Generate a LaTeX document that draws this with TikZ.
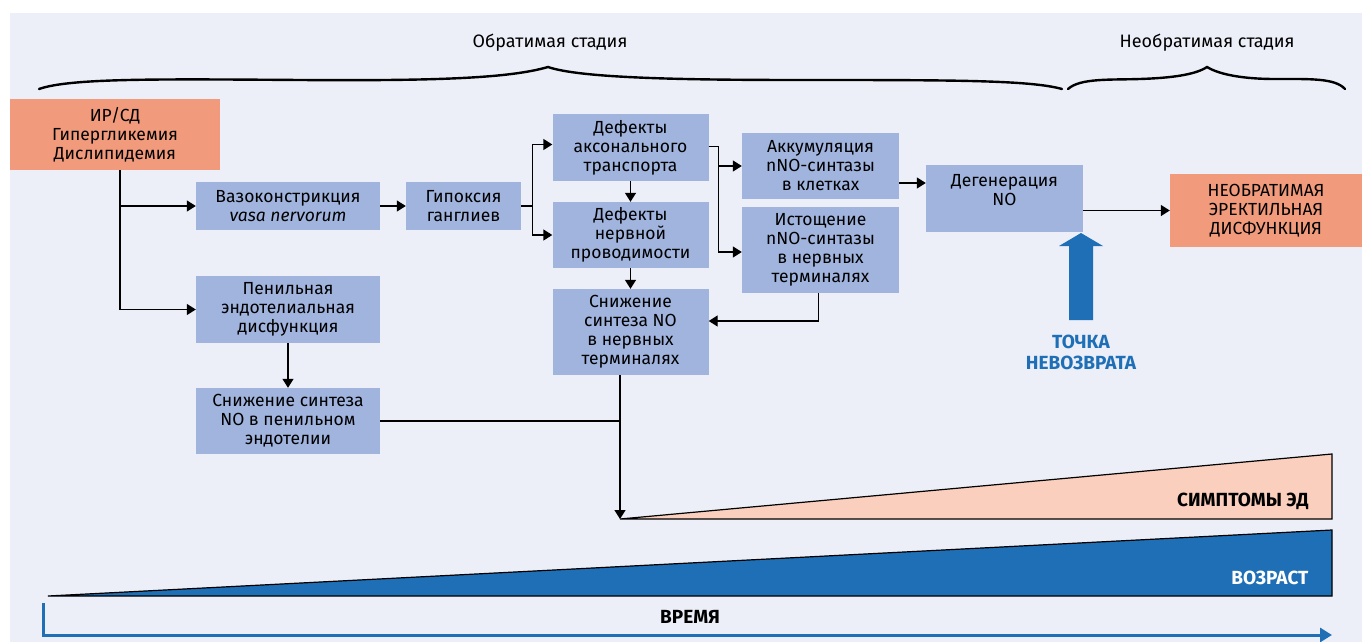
\documentclass[tikz,border=0pt]{standalone}
\usepackage{fontspec}
\setmainfont{Fira Sans}
\usetikzlibrary{arrows.meta}
\definecolor{bgc}{HTML}{ECEFF8}
\definecolor{boxb}{HTML}{A0B4DE}
\definecolor{salm}{HTML}{F29B7C}
\definecolor{peach}{HTML}{FBCFBD}
\definecolor{dblue}{HTML}{1F6FB7}
\tikzset{
  bbox/.style={fill=boxb, inner sep=0pt, align=center, font=\fontsize{17.5}{19}\selectfont},
  sbox/.style={fill=salm, inner sep=0pt, align=center, font=\fontsize{17.5}{19}\selectfont},
  conn/.style={line width=1.4pt, black},
  arr/.style={conn, -{Triangle[length=9pt,width=11pt]}},
  brace/.style={line width=2.4pt, line cap=round},
  stage/.style={font=\fontsize{18}{20}\selectfont},
  bold/.style={font=\fontsize{19}{21}\selectfont\bfseries, align=center},
}
\begin{document}
\begin{tikzpicture}[x=1pt,y=-1pt]
\useasboundingbox (0,0) rectangle (1362,642);
\fill[white] (0,0) rectangle (1362,642);
\fill[bgc] (10,13) rectangle (1362,642);

% braces
\draw[brace] (39,89) .. controls (70,78) and (160,79) .. (300,80) .. controls (440,81) and (510,78) .. (548,67)
  .. controls (580,78) and (680,80) .. (800,80) .. controls (950,80) and (1030,80) .. (1062,89);
\draw[brace] (1068,89) .. controls (1080,78) and (1110,80) .. (1140,79) .. controls (1170,78) and (1195,75) .. (1207,67)
  .. controls (1220,75) and (1245,79) .. (1275,79) .. controls (1310,79) and (1335,78) .. (1345,89);
\node[stage] (st1) at (550,43) {Обратимая стадия};
\node[stage] (st2) at (1207,43) {Необратимая стадия};

% boxes
\node[sbox, minimum width=210, minimum height=71] (ir) at (115,134.5) {ИР/СД\\Гипергликемия\\Дислипидемия};
\node[bbox, minimum width=184, minimum height=48] (vaso) at (288,206) {Вазоконстрикция\\\textit{vasa nervorum}};
\node[bbox, minimum width=115, minimum height=48] (gip) at (463.5,206) {Гипоксия\\ганглиев};
\node[bbox, minimum width=184, minimum height=67] (pen) at (288,309.5) {Пенильная\\эндотелиальная\\дисфункция};
\node[bbox, minimum width=184, minimum height=66] (pen2) at (288,421) {Снижение синтеза\\NO в пенильном\\эндотелии};
\node[bbox, minimum width=156, minimum height=67] (def1) at (630.5,147.5) {Дефекты\\аксонального\\транспорта};
\node[bbox, minimum width=156, minimum height=66] (def2) at (630.5,235) {Дефекты\\нервной\\проводимости};
\node[bbox, minimum width=156, minimum height=86] (sn) at (630.5,332) {Снижение\\синтеза NO\\в нервных\\терминалях};
\node[bbox, minimum width=157, minimum height=66] (akk) at (820.5,166) {Аккумуляция\\nNO-синтазы\\в клетках};
\node[bbox, minimum width=157, minimum height=86] (ist) at (820.5,250) {Истощение\\nNO-синтазы\\в нервных\\терминалях};
\node[bbox, minimum width=157, minimum height=67] (deg) at (1004.5,198.5) {};
\node[bbox, fill=none] (degt) at (1004.5,190) {Дегенерация\\NO};
\node[sbox, minimum width=192, minimum height=73] (neo) at (1266,210.5) {НЕОБРАТИМАЯ\\ЭРЕКТИЛЬНАЯ\\ДИСФУНКЦИЯ};

% connectors
\coordinate (i1) at ([xshift=5pt]ir.south);
\draw[arr] (i1) |- (vaso.west);
\draw[arr] (i1) |- (pen.west);
\draw[arr] (vaso) -- (gip);
\coordinate (g1) at ([xshift=11pt]gip.east);
\draw[conn] (gip.east) -- (g1);
\draw[arr] (g1) |- ([yshift=3pt]def1.west);
\draw[arr] (g1) |- (def2.west);
\draw[arr] (def1) -- (def2);
\draw[arr] (def2) -- (sn);
\coordinate (d1) at ([xshift=10pt,yshift=1pt]def1.east);
\draw[conn] ([yshift=1pt]def1.east) -- (d1);
\draw[arr] (d1) |- (akk.west);
\draw[arr] (d1) |- ([yshift=-2pt]ist.west);
\draw[arr] ([xshift=-2pt]ist.south) |- ([yshift=11pt]sn.east);
\draw[arr] ([yshift=-17pt]akk.east) -- ([yshift=-17pt]akk.east -| deg.west);
\draw[arr] (deg.east |- neo.west) -- (neo.west);
\coordinate (apex) at (620,519);
\draw[conn] (pen2.east) -- (pen2.east -| apex);
\draw[arr] (sn.south -| apex) -- (apex);
\draw[arr] (pen) -- (pen2);

% point of no return arrow
\fill[dblue] (1069,320) -- (1069,246) -- (1059,246) -- (1081,233) -- (1103,246) -- (1093,246) -- (1093,320) -- cycle;
\node[bold, text=dblue] (pnr) at (1081,352) {ТОЧКА\\НЕВОЗВРАТА};

% triangles
\draw[fill=peach, line width=1.2pt, line join=miter] (apex) -- (1332,454) -- (1332,519) -- cycle;
\node[bold, anchor=east] (sym) at (1312,501) {СИМПТОМЫ ЭД};
\draw[fill=dblue, line width=1.2pt] (48,596) -- (1332,530) -- (1332,596) -- cycle;
\node[bold, anchor=east, text=white] (age) at (1312,578) {ВОЗРАСТ};

% time axis
\draw[dblue, line width=3pt, -{Triangle[length=12pt,width=14pt]}] (43,603) -- (43,635) -- (1332,635);
\node[bold] (time) at (690,617) {ВРЕМЯ};
\end{tikzpicture}
\end{document}
